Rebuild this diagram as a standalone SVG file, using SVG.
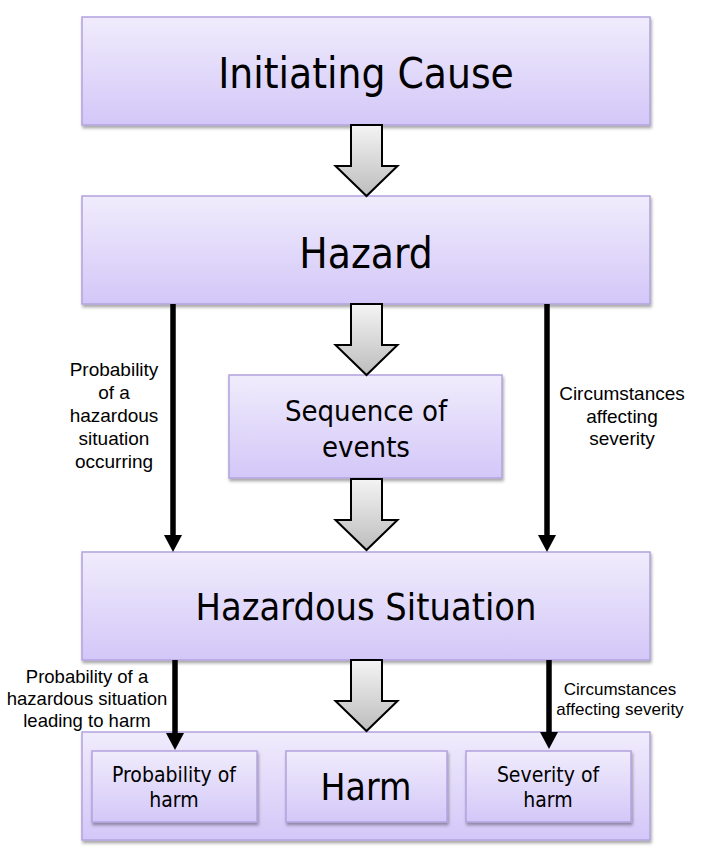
<svg xmlns="http://www.w3.org/2000/svg" width="705" height="859" viewBox="0 0 705 859">
<defs>
<linearGradient id="boxg" x1="0" y1="0" x2="0" y2="1">
<stop offset="0" stop-color="#F0ECFC"/>
<stop offset="1" stop-color="#D3C7F8"/>
</linearGradient>
<linearGradient id="arrg" x1="0" y1="0" x2="0" y2="1">
<stop offset="0" stop-color="#F4F4F4"/>
<stop offset="1" stop-color="#BDBDBD"/>
</linearGradient>
<filter id="sh" x="-5%" y="-10%" width="110%" height="125%">
<feDropShadow dx="1" dy="2.5" stdDeviation="1.5" flood-color="#000" flood-opacity="0.35"/>
</filter>
<path id="blk" d="M-15.5,0 H15.5 V41 H31 L0,71 L-31,41 H-15.5 Z"/>
<path id="ahd" d="M-9,-17 H9 L0,0 Z"/>
</defs>
<style>
.box{fill:url(#boxg);stroke:#B3A3DE;stroke-width:1.5;filter:url(#sh)}
.big{font-family:"DejaVu Sans Condensed","DejaVu Sans",sans-serif;fill:#000;text-anchor:middle}
.lbl{font-family:"Liberation Sans",Arial,sans-serif;fill:#000;text-anchor:middle}
.conn{stroke:#000;stroke-width:5.5;fill:none}
.head{fill:#000}
.barr{fill:url(#arrg);stroke:#000;stroke-width:2;stroke-linejoin:miter}
</style>
<rect width="705" height="859" fill="#fff"/>

<g id="initiating-cause">
<rect class="box" x="82" y="17" width="568" height="108"/>
<text class="big" x="366" y="88" font-size="42">Initiating Cause</text>
</g>
<g id="hazard">
<rect class="box" x="82" y="196" width="568" height="108"/>
<text class="big" x="366" y="268" font-size="42">Hazard</text>
</g>
<g id="sequence-of-events">
<rect class="box" x="229" y="375" width="273" height="103"/>
<text class="big" x="366" y="421" font-size="29">Sequence of</text>
<text class="big" x="366" y="457" font-size="29">events</text>
</g>
<g id="hazardous-situation">
<rect class="box" x="82" y="552" width="568" height="108"/>
<text class="big" x="366" y="620" font-size="37.6">Hazardous Situation</text>
</g>
<g id="harm-group">
<rect class="box" x="82" y="732" width="568" height="108"/>
<g id="probability-of-harm">
<rect class="box" x="92" y="751" width="165" height="71"/>
<text class="big" x="174" y="782" font-size="21">Probability of</text>
<text class="big" x="174" y="807" font-size="21">harm</text>
</g>
<g id="harm">
<rect class="box" x="286" y="751" width="161" height="71"/>
<text class="big" x="366" y="800" font-size="37">Harm</text>
</g>
<g id="severity-of-harm">
<rect class="box" x="466" y="751" width="165" height="71"/>
<text class="big" x="548" y="782" font-size="21">Severity of</text>
<text class="big" x="548" y="807" font-size="21">harm</text>
</g>
</g>

<g id="connectors">
<use href="#blk" class="barr" transform="translate(366.5,125)"/>
<use href="#blk" class="barr" transform="translate(366.5,304)"/>
<use href="#blk" class="barr" transform="translate(366.5,479)"/>
<use href="#blk" class="barr" transform="translate(366.5,660)"/>
<line class="conn" x1="173" y1="304" x2="173" y2="537"/>
<use href="#ahd" class="head" transform="translate(173,552)"/>
<line class="conn" x1="547" y1="304" x2="547" y2="537"/>
<use href="#ahd" class="head" transform="translate(547,552)"/>
<line class="conn" x1="175" y1="660" x2="175" y2="735"/>
<use href="#ahd" class="head" transform="translate(175,750)"/>
<line class="conn" x1="549" y1="660" x2="549" y2="734"/>
<use href="#ahd" class="head" transform="translate(549,749)"/>
<text class="lbl" font-size="19"><tspan x="114" y="376">Probability</tspan><tspan x="114" y="399">of a</tspan><tspan x="114" y="422">hazardous</tspan><tspan x="114" y="445">situation</tspan><tspan x="114" y="468">occurring</tspan></text>
<text class="lbl" font-size="19"><tspan x="622" y="400">Circumstances</tspan><tspan x="622" y="422.5">affecting</tspan><tspan x="622" y="445">severity</tspan></text>
<text class="lbl" font-size="18.5"><tspan x="87" y="683">Probability of a</tspan><tspan x="87" y="705">hazardous situation</tspan><tspan x="87" y="727">leading to harm</tspan></text>
<text class="lbl" font-size="17"><tspan x="620" y="695">Circumstances</tspan><tspan x="620" y="715">affecting severity</tspan></text>
</g>
</svg>
